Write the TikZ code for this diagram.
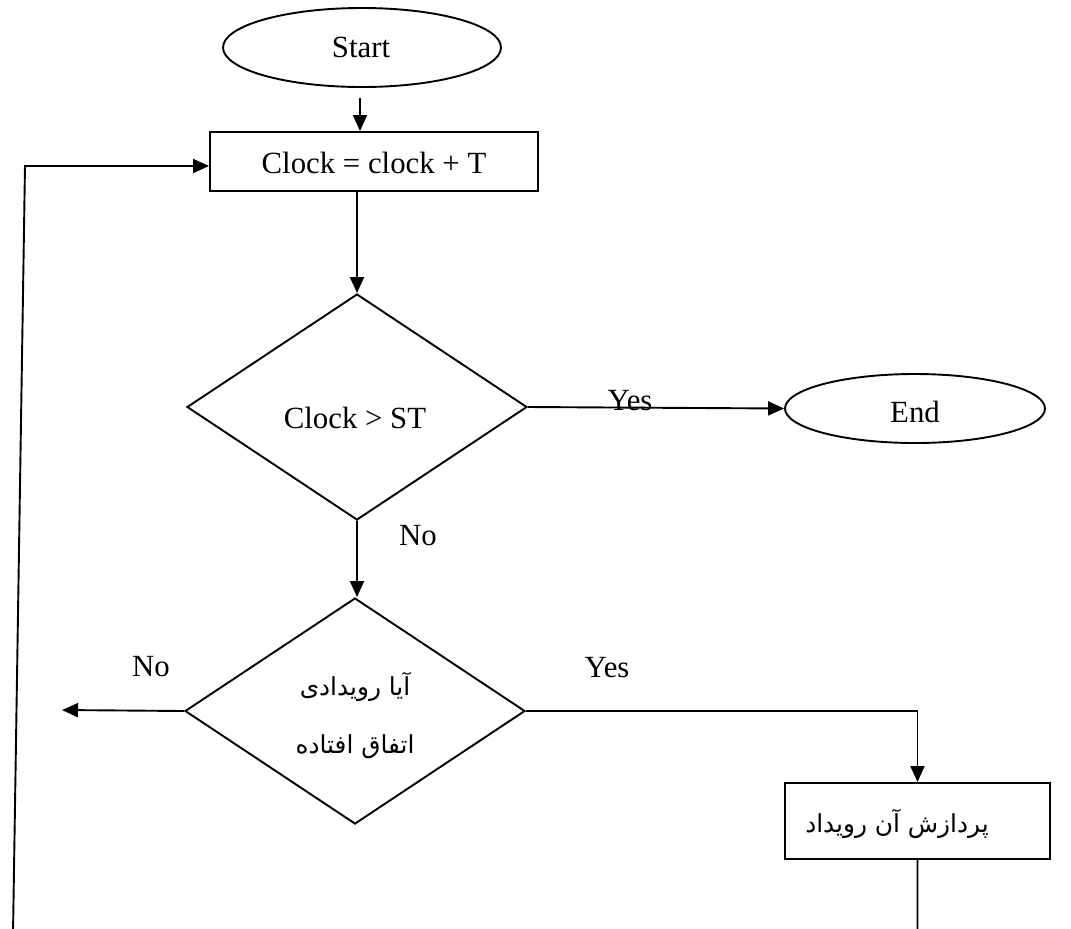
\documentclass[tikz,border=0pt]{standalone}
\usepackage{fontspec}
\setmainfont{Liberation Serif}
\newfontfamily\fa[Script=Arabic]{DejaVu Sans}
\TeXXeTstate=1
\usetikzlibrary{shapes.geometric,arrows.meta}
\begin{document}
\begin{tikzpicture}[x=0.5pt,y=-0.5pt,
  line width=0.95pt,
  every node/.style={font=\fontsize{15.4}{18}\selectfont, inner sep=0pt},
  term/.style={draw, ellipse},
  procbox/.style={draw, rectangle},
  decide/.style={draw, diamond, minimum width=170pt, minimum height=113pt},
  falabel/.style={font=\fa\fontsize{12.4}{14}\selectfont, anchor=base},
  lbl/.style={anchor=base},
  arr/.style={-{Triangle[length=8pt,width=7pt]}}]
\useasboundingbox (0,0) rectangle (1071,928);

% shapes
\node[term, minimum width=139pt, minimum height=39.5pt] (start) at (362,47.5) {};
\node[lbl] (starttxt) at (361,57) {Start};
\node[procbox, minimum width=164pt, minimum height=29.5pt] (clock) at (374,161.5) {};
\node[lbl] (clocktxt) at (374,173) {Clock = clock + T};
\node[decide] (test) at (357,407) {};
\node[lbl] (testtxt) at (355,428) {Clock > ST};
\node[term, minimum width=130pt, minimum height=34.5pt] (end) at (915,408.5) {};
\node[lbl] (endtxt) at (915,422) {End};
\node[decide] (event) at (355,711) {};
\node[falabel] (evl1) at (355,695) {\beginR آیا رویدادی\endR};
\node[falabel] (evl2) at (355,753) {\beginR اتفاق افتاده\endR};
\node[procbox, minimum width=132.5pt, minimum height=38pt] (proc) at (917.5,821) {};
\node[falabel] (proctxt) at (897,832) {\beginR پردازش آن رویداد\endR};

% free ends of the open and looping connectors
\coordinate (noend) at (62,710);
\coordinate (loopbl) at (13,934);
\coordinate (looptl) at (25,166);

% connectors
\draw[arr, shorten <=5pt] (start.south -| 360,0) -- (clock.north -| 360,0);
\draw[arr] (test.north |- clock.south) -- (test.north);
\draw[arr] (test.east) -- (end.west);
\draw[arr] (test.south) -- (test.south |- event.north);
\draw[arr] (event.west) -- (noend);
\draw[arr] (event.east) -- (event.east -| proc.north) -- (proc.north);
\draw[arr] (proc.south) -- (proc.south |- loopbl) -- (loopbl) -- (looptl) -- (looptl -| clock.west);

% branch labels
\node[lbl] (yes1) at (630,410) {Yes};
\node[lbl] (no1) at (418,545) {No};
\node[lbl] (no2) at (151,676) {No};
\node[lbl] (yes2) at (607,677) {Yes};
\end{tikzpicture}
\end{document}
